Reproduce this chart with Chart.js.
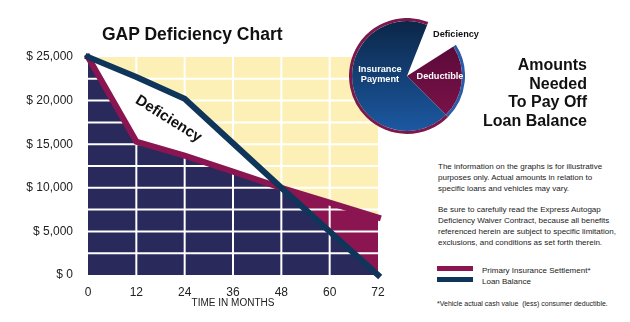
<!DOCTYPE html>
<html>
<head>
<meta charset="utf-8">
<title>GAP Deficiency Chart</title>
<script src="https://cdn.jsdelivr.net/npm/chart.js@4.4.0/dist/chart.umd.min.js"></script>
<style>
  body { margin: 0; background: #fff; font-family: "Liberation Sans", Arial, sans-serif; color: #1a1a1a; }
  #wrap { position: relative; width: 630px; height: 322px; overflow: hidden; background: #fff; }
  #gap { position: absolute; left: 0; top: 0; }
  #pie { position: absolute; left: 349px; top: 18px; }
  .title { position: absolute; left: 102px; top: 24px; font-size: 17.5px; line-height: 20px; font-weight: bold; color: #111; }
  .pie-label { position: absolute; font-weight: bold; font-size: 9.2px; line-height: 10px; text-align: center; white-space: nowrap; }
  .needed { position: absolute; right: 43px; top: 56px; font-size: 16px; line-height: 18.7px; font-weight: bold; text-align: right; color: #111; }
  .notes { position: absolute; left: 438px; top: 161px; width: 190px; font-size: 8px; line-height: 11px; }
  .notes p { margin: 0 0 10px 0; }
  .legend { position: absolute; left: 437px; top: 265px; font-size: 8px; line-height: 11px; }
  .legend div { height: 11px; white-space: nowrap; }
  .legend span { display: inline-block; width: 36px; height: 5px; margin-right: 9px; vertical-align: 2px; }
  .foot { position: absolute; left: 437px; top: 299px; font-size: 7px; line-height: 10px; white-space: nowrap; }
</style>
</head>
<body>
<div id="wrap">
  <canvas id="gap" width="400" height="322"></canvas>
  <canvas id="pie" width="116" height="116"></canvas>
  <div class="title">GAP Deficiency Chart</div>
  <div class="pie-label" style="left:355px; top:64px; width:50px; color:#fff;">Insurance<br>Payment</div>
  <div class="pie-label" style="left:414px; top:71px; width:52px; color:#fff;">Deductible</div>
  <div class="pie-label" style="left:430px; top:29px; width:52px; color:#111;">Deficiency</div>
  <div class="needed">Amounts<br>Needed<br>To Pay Off<br>Loan Balance</div>
  <div class="notes">
    <p>The information on the graphs is for illustrative<br>purposes only. Actual amounts in relation to<br>specific loans and vehicles may vary.</p>
    <p>Be sure to carefully read the Express Autogap<br>Deficiency Waiver Contract, because all benefits<br>referenced herein are subject to specific limitation,<br>exclusions, and conditions as set forth therein.</p>
  </div>
  <div class="legend">
    <div><span style="background:#8a1551"></span>Primary Insurance Settlement*</div>
    <div><span style="background:#10355a"></span>Loan Balance</div>
  </div>
  <div class="foot">*Vehicle actual cash value &nbsp;(less) consumer deductible.</div>
</div>
<script>
// months on the loan, and the two dollar curves over those months
const months = [0, 12, 24, 36, 48, 60, 72];
const loanBalance = [25000, 22700, 20200, 15100, 10000, 5000, 0];
const settlement = [25000, 15300, 13700, 11850, 10000, 8300, 6600];

// pie split of what pays off the loan
const pieLabels = ["Deficiency", "Deductible", "Insurance Payment"];
const pieShares = [10, 21.5, 68.5];

const YELLOW = "#fcf0b6";
const NAVY_FILL = "#29295b";
const MAROON = "#8a1551";
const BLUE_LINE = "#10355a";
const TICK_FONT = { family: '"Liberation Sans", Arial, sans-serif', size: 12 };

function points(values) {
  return months.map((m, i) => ({ x: m, y: values[i] }));
}

// pale yellow behind the plot
const plotBackground = {
  id: "plotBackground",
  beforeDraw(chart) {
    const { ctx, chartArea: a } = chart;
    ctx.save();
    ctx.fillStyle = YELLOW;
    ctx.fillRect(a.left, a.top, a.right - a.left, a.bottom - a.top);
    ctx.restore();
  },
};

// white grid on top of the fills but under the lines
const whiteGrid = {
  id: "whiteGrid",
  beforeDatasetsDraw(chart) {
    const { ctx, chartArea: a, scales } = chart;
    ctx.save();
    ctx.strokeStyle = "#fff";
    ctx.lineWidth = 2;
    ctx.beginPath();
    scales.x.ticks.forEach((t) => {
      const px = scales.x.getPixelForValue(t.value);
      if (px <= a.left + 1 || px >= a.right - 1) return;
      ctx.moveTo(px, a.top);
      ctx.lineTo(px, a.bottom);
    });
    scales.y.ticks.forEach((t) => {
      const py = scales.y.getPixelForValue(t.value);
      if (py <= a.top + 1 || py >= a.bottom - 1) return;
      ctx.moveTo(a.left, py);
      ctx.lineTo(a.right, py);
    });
    ctx.stroke();
    ctx.restore();
  },
};

// slanted "Deficiency" word inside the gap between the curves
const gapLabel = {
  id: "gapLabel",
  afterDatasetsDraw(chart) {
    const { ctx, scales } = chart;
    const px = scales.x.getPixelForValue(20);
    const py = scales.y.getPixelForValue(17900);
    ctx.save();
    ctx.translate(px, py);
    ctx.rotate((32 * Math.PI) / 180);
    ctx.font = 'bold 15px "Liberation Sans", Arial, sans-serif';
    ctx.fillStyle = "#111";
    ctx.textAlign = "center";
    ctx.textBaseline = "middle";
    ctx.fillText("Deficiency", 0, 0);
    ctx.restore();
  },
};

new Chart(document.getElementById("gap"), {
  type: "line",
  data: {
    datasets: [
      {
        label: "Loan Balance",
        data: points(loanBalance),
        borderColor: BLUE_LINE,
        borderWidth: 6,
        borderCapStyle: "square",
        pointRadius: 0,
        clip: false,
        fill: { target: "+1", above: "#ffffff", below: MAROON },
      },
      {
        label: "Primary Insurance Settlement*",
        data: points(settlement),
        borderColor: MAROON,
        borderWidth: 6,
        borderCapStyle: "square",
        pointRadius: 0,
        clip: false,
        fill: { target: "origin", above: NAVY_FILL },
      },
    ],
  },
  options: {
    responsive: false,
    animation: false,
    layout: { padding: { top: 57, right: 22, left: 0, bottom: 0 } },
    scales: {
      x: {
        type: "linear",
        min: 0,
        max: 72,
        grid: { display: false, drawTicks: false },
        border: { display: false },
        ticks: { stepSize: 12, padding: 10, color: "#222", font: TICK_FONT },
        title: {
          display: true,
          text: "TIME IN MONTHS",
          color: "#222",
          padding: { top: 0, bottom: 13 },
          font: { family: '"Liberation Sans", Arial, sans-serif', size: 10 },
        },
        afterFit(scale) { scale.height = 47; },
      },
      y: {
        min: 0,
        max: 25000,
        grid: { display: false, drawTicks: false },
        border: { display: false },
        ticks: {
          stepSize: 2500,
          padding: 15,
          color: "#222",
          font: TICK_FONT,
          callback: (v) => (v % 5000 === 0 ? "$ " + v.toLocaleString("en-US") : ""),
        },
        afterFit(scale) { scale.width = 88; },
      },
    },
    plugins: {
      legend: { display: false },
      tooltip: { enabled: false },
      filler: { drawTime: "beforeDatasetsDraw" },
    },
  },
  plugins: [plotBackground, whiteGrid, gapLabel],
});

// gradient fill for each pie slice
function sliceFill(c) {
  const chart = c.chart;
  const a = chart.chartArea;
  if (!a) return null;
  if (c.dataIndex === 0) return "rgba(0,0,0,0)";
  const g = chart.ctx.createLinearGradient(0, a.top, 0, a.bottom);
  if (c.dataIndex === 1) {
    g.addColorStop(0, "#4e0733");
    g.addColorStop(1, "#82144c");
  } else {
    g.addColorStop(0, "#0b2545");
    g.addColorStop(1, "#1c5aa4");
  }
  return g;
}

new Chart(document.getElementById("pie"), {
  type: "pie",
  data: {
    labels: pieLabels,
    datasets: [
      {
        // thin outer rim
        data: pieShares,
        backgroundColor: ["rgba(0,0,0,0)", "#2b5aa6", "#7a1a4c"],
        borderWidth: 0,
        weight: 1,
      },
      {
        data: pieShares,
        backgroundColor: sliceFill,
        borderWidth: 0,
        weight: 18,
      },
    ],
  },
  options: {
    responsive: false,
    animation: false,
    rotation: 21.5,
    plugins: { legend: { display: false }, tooltip: { enabled: false } },
  },
});
</script>
</body>
</html>
